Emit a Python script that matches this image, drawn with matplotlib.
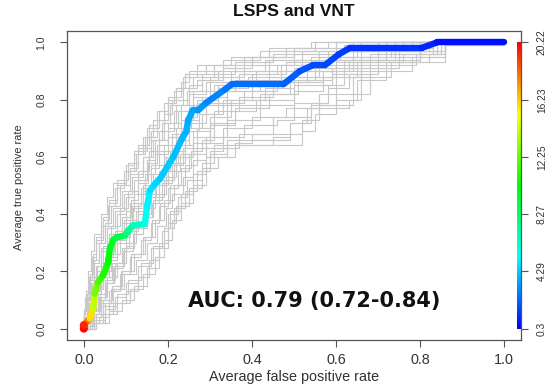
import numpy as np
import matplotlib
matplotlib.use("Agg")
import matplotlib.pyplot as plt
from matplotlib.collections import LineCollection
from matplotlib.colors import hsv_to_rgb

# Averaged ROC curve (false positive rate, true positive rate) with the cutoff at each vertex
roc_fpr = [0.0, 0.0, 0.014, 0.022, 0.026, 0.034, 0.046, 0.058, 0.062, 0.070, 0.078,
           0.098, 0.106, 0.117, 0.145, 0.151, 0.157, 0.169, 0.181, 0.213, 0.233,
           0.244, 0.248, 0.259, 0.272, 0.292, 0.336, 0.352, 0.475, 0.514, 0.546,
           0.574, 0.606, 0.633, 0.804, 0.840, 1.0]
roc_tpr = [0.0, 0.012, 0.035, 0.070, 0.122, 0.163, 0.186, 0.232, 0.279, 0.310, 0.319,
           0.325, 0.343, 0.360, 0.366, 0.430, 0.482, 0.505, 0.523, 0.600, 0.662,
           0.690, 0.726, 0.763, 0.763, 0.790, 0.836, 0.854, 0.854, 0.900, 0.921,
           0.921, 0.958, 0.981, 0.981, 1.0, 1.0]
roc_cutoff = [20.22, 19.5, 16.5, 15.2, 13.0, 12.0, 11.0, 10.3, 10.0, 9.5, 9.2,
              8.3, 7.8, 7.0, 6.0, 5.2, 4.8, 4.6, 4.4, 4.1, 3.9,
              3.8, 3.7, 3.5, 3.4, 3.1, 2.7, 2.6, 2.3, 2.0, 1.85,
              1.75, 1.6, 1.4, 1.1, 0.9, 0.3]

# Bootstrap ROC curves: at each fpr the tpr steps up to the listed value
boot_fpr = [
    [0, 0.005, 0.01, 0.018, 0.025, 0.04, 0.055, 0.07, 0.1, 0.12, 0.15, 0.18, 0.2, 0.23, 0.25, 0.33, 0.42, 0.55],
    [0, 0.008, 0.015, 0.025, 0.035, 0.05, 0.065, 0.085, 0.11, 0.13, 0.16, 0.19, 0.21, 0.25, 0.28, 0.36, 0.45, 0.6],
    [0, 0.01, 0.02, 0.03, 0.04, 0.06, 0.08, 0.1, 0.12, 0.15, 0.17, 0.2, 0.23, 0.26, 0.3, 0.38, 0.5, 0.62, 0.7],
    [0, 0.012, 0.022, 0.035, 0.05, 0.07, 0.09, 0.115, 0.135, 0.16, 0.18, 0.21, 0.24, 0.27, 0.32, 0.4, 0.48, 0.58, 0.78],
    [0, 0.015, 0.028, 0.04, 0.06, 0.08, 0.1, 0.125, 0.15, 0.17, 0.195, 0.22, 0.25, 0.29, 0.34, 0.42, 0.5, 0.6, 0.7, 0.82],
    [0, 0.02, 0.035, 0.05, 0.07, 0.095, 0.12, 0.14, 0.165, 0.185, 0.21, 0.235, 0.27, 0.31, 0.37, 0.45, 0.53, 0.63, 0.74, 0.85],
    [0, 0.022, 0.04, 0.06, 0.085, 0.11, 0.135, 0.16, 0.18, 0.2, 0.225, 0.25, 0.29, 0.34, 0.42, 0.5, 0.57, 0.65, 0.76, 0.86],
    [0, 0.025, 0.05, 0.075, 0.1, 0.13, 0.16, 0.185, 0.2, 0.225, 0.245, 0.28, 0.31, 0.52, 0.55, 0.6, 0.65, 0.72, 0.86],
    [0.03, 0.06, 0.09, 0.12, 0.15, 0.18, 0.2, 0.215, 0.24, 0.27, 0.3, 0.34, 0.49, 0.53, 0.63, 0.66, 0.75, 0.86],
    [0, 0.01, 0.025, 0.04, 0.055, 0.075, 0.1, 0.12, 0.145, 0.17, 0.2, 0.23, 0.26, 0.3, 0.36, 0.44, 0.55, 0.66, 0.8],
    [0, 0.018, 0.03, 0.045, 0.065, 0.085, 0.11, 0.13, 0.155, 0.18, 0.205, 0.24, 0.275, 0.33, 0.4, 0.47, 0.56, 0.68, 0.84],
    [0, 0.01, 0.02, 0.032, 0.045, 0.065, 0.085, 0.105, 0.13, 0.155, 0.18, 0.215, 0.25, 0.29, 0.35, 0.44, 0.56, 0.72],
    [0, 0.02, 0.038, 0.055, 0.08, 0.1, 0.125, 0.15, 0.17, 0.195, 0.22, 0.26, 0.3, 0.36, 0.44, 0.51, 0.59, 0.68, 0.8],
    [0, 0.024, 0.045, 0.068, 0.09, 0.12, 0.145, 0.17, 0.19, 0.215, 0.24, 0.27, 0.37, 0.45, 0.54, 0.58, 0.62, 0.7, 0.8],
    [0, 0.006, 0.014, 0.022, 0.03, 0.045, 0.06, 0.08, 0.1, 0.125, 0.145, 0.175, 0.2, 0.22, 0.26, 0.31, 0.4, 0.5, 0.64],
    [0, 0.004, 0.012, 0.02, 0.03, 0.045, 0.06, 0.08, 0.105, 0.13, 0.155, 0.175, 0.2, 0.22, 0.24, 0.29, 0.38, 0.48, 0.58],
    [0, 0.015, 0.03, 0.045, 0.06, 0.075, 0.095, 0.11, 0.14, 0.16, 0.19, 0.22, 0.255, 0.28, 0.34, 0.41, 0.52, 0.61, 0.74],
    [0.005, 0.02, 0.04, 0.055, 0.075, 0.1, 0.12, 0.15, 0.16, 0.19, 0.215, 0.24, 0.26, 0.3, 0.35, 0.43, 0.5, 0.6, 0.7, 0.83],
    [0.01, 0.03, 0.05, 0.07, 0.095, 0.125, 0.15, 0.175, 0.195, 0.21, 0.235, 0.26, 0.29, 0.33, 0.4, 0.48, 0.56, 0.6, 0.68, 0.79, 0.85],
    [0.02, 0.045, 0.07, 0.1, 0.13, 0.155, 0.18, 0.2, 0.22, 0.25, 0.28, 0.3, 0.33, 0.38, 0.46, 0.5, 0.58, 0.63, 0.7, 0.8, 0.86],
    [0, 0.007, 0.015, 0.025, 0.035, 0.05, 0.07, 0.09, 0.11, 0.14, 0.16, 0.185, 0.205, 0.235, 0.27, 0.33, 0.4, 0.5, 0.6],
    [0, 0.016, 0.03, 0.042, 0.058, 0.078, 0.1, 0.118, 0.14, 0.165, 0.19, 0.21, 0.24, 0.275, 0.32, 0.39, 0.47, 0.56, 0.65, 0.76],
    [0.005, 0.025, 0.042, 0.065, 0.088, 0.112, 0.14, 0.162, 0.182, 0.205, 0.23, 0.255, 0.28, 0.31, 0.36, 0.41, 0.5, 0.59, 0.66, 0.75, 0.84],
    [0, 0.009, 0.018, 0.028, 0.04, 0.055, 0.075, 0.095, 0.115, 0.14, 0.165, 0.19, 0.22, 0.245, 0.28, 0.32, 0.43, 0.52, 0.66],
    [0.03, 0.05, 0.08, 0.11, 0.14, 0.17, 0.19, 0.21, 0.23, 0.26, 0.29, 0.32, 0.36, 0.4, 0.52, 0.56, 0.64, 0.68, 0.78, 0.86],
    [0, 0.012, 0.024, 0.038, 0.052, 0.072, 0.092, 0.112, 0.13, 0.152, 0.175, 0.2, 0.225, 0.26, 0.31, 0.37, 0.46, 0.54, 0.64, 0.78],
    [0, 0.02, 0.033, 0.05, 0.068, 0.09, 0.108, 0.128, 0.15, 0.172, 0.2, 0.225, 0.25, 0.28, 0.32, 0.38, 0.46, 0.55, 0.62, 0.72, 0.82],
    [0, 0.006, 0.013, 0.02, 0.03, 0.042, 0.058, 0.075, 0.095, 0.12, 0.14, 0.165, 0.19, 0.215, 0.235, 0.27, 0.35, 0.44, 0.54],
    [0.004, 0.018, 0.036, 0.052, 0.072, 0.094, 0.118, 0.14, 0.163, 0.18, 0.2, 0.228, 0.26, 0.3, 0.34, 0.42, 0.49, 0.57, 0.64, 0.73, 0.83],
    [0.015, 0.035, 0.06, 0.08, 0.105, 0.135, 0.165, 0.19, 0.205, 0.23, 0.26, 0.29, 0.34, 0.45, 0.49, 0.54, 0.6, 0.64, 0.73, 0.82, 0.86],
]
boot_tpr = [
    [0.06, 0.12, 0.2, 0.27, 0.33, 0.4, 0.46, 0.51, 0.57, 0.62, 0.7, 0.76, 0.81, 0.86, 0.9, 0.94, 0.97, 1.0],
    [0.04, 0.1, 0.17, 0.24, 0.3, 0.37, 0.43, 0.5, 0.56, 0.63, 0.69, 0.75, 0.8, 0.85, 0.89, 0.93, 0.96, 1.0],
    [0.03, 0.09, 0.15, 0.2, 0.27, 0.33, 0.4, 0.46, 0.52, 0.59, 0.66, 0.72, 0.78, 0.83, 0.88, 0.92, 0.96, 0.99, 1.0],
    [0.02, 0.07, 0.13, 0.19, 0.25, 0.31, 0.37, 0.43, 0.49, 0.56, 0.62, 0.68, 0.74, 0.8, 0.85, 0.89, 0.93, 0.97, 1.0],
    [0.02, 0.06, 0.12, 0.18, 0.24, 0.3, 0.35, 0.41, 0.47, 0.53, 0.6, 0.66, 0.72, 0.78, 0.83, 0.87, 0.91, 0.95, 0.98, 1.0],
    [0.01, 0.05, 0.1, 0.16, 0.22, 0.28, 0.33, 0.39, 0.45, 0.51, 0.57, 0.63, 0.7, 0.76, 0.81, 0.86, 0.9, 0.94, 0.97, 1.0],
    [0.01, 0.04, 0.08, 0.13, 0.19, 0.25, 0.31, 0.37, 0.43, 0.49, 0.55, 0.61, 0.67, 0.73, 0.78, 0.83, 0.88, 0.93, 0.96, 1.0],
    [0.0, 0.03, 0.07, 0.11, 0.16, 0.22, 0.28, 0.34, 0.4, 0.46, 0.52, 0.58, 0.64, 0.69, 0.75, 0.8, 0.87, 0.93, 1.0],
    [0.02, 0.06, 0.1, 0.15, 0.21, 0.28, 0.35, 0.42, 0.48, 0.55, 0.61, 0.66, 0.72, 0.77, 0.8, 0.91, 0.95, 1.0],
    [0.05, 0.11, 0.18, 0.23, 0.29, 0.34, 0.41, 0.47, 0.54, 0.61, 0.67, 0.73, 0.78, 0.83, 0.87, 0.9, 0.94, 0.98, 1.0],
    [0.03, 0.08, 0.14, 0.2, 0.26, 0.32, 0.38, 0.44, 0.5, 0.55, 0.62, 0.69, 0.75, 0.8, 0.85, 0.88, 0.92, 0.96, 1.0],
    [0.04, 0.1, 0.16, 0.22, 0.29, 0.36, 0.42, 0.48, 0.55, 0.62, 0.69, 0.76, 0.82, 0.86, 0.9, 0.94, 0.97, 1.0],
    [0.02, 0.06, 0.12, 0.18, 0.23, 0.3, 0.36, 0.42, 0.47, 0.53, 0.6, 0.65, 0.71, 0.77, 0.82, 0.87, 0.91, 0.95, 1.0],
    [0.01, 0.05, 0.1, 0.15, 0.2, 0.26, 0.32, 0.38, 0.45, 0.5, 0.57, 0.63, 0.68, 0.74, 0.79, 0.85, 0.9, 0.94, 1.0],
    [0.07, 0.13, 0.19, 0.26, 0.31, 0.38, 0.44, 0.5, 0.55, 0.61, 0.67, 0.73, 0.79, 0.84, 0.88, 0.92, 0.95, 0.98, 1.0],
    [0.05, 0.11, 0.18, 0.25, 0.32, 0.39, 0.45, 0.52, 0.58, 0.64, 0.71, 0.76, 0.8, 0.84, 0.89, 0.92, 0.95, 0.98, 1.0],
    [0.03, 0.08, 0.15, 0.21, 0.26, 0.33, 0.38, 0.44, 0.5, 0.57, 0.64, 0.7, 0.77, 0.81, 0.86, 0.9, 0.94, 0.97, 1.0],
    [0.02, 0.07, 0.11, 0.17, 0.23, 0.29, 0.35, 0.4, 0.46, 0.52, 0.58, 0.64, 0.69, 0.74, 0.8, 0.84, 0.88, 0.93, 0.96, 1.0],
    [0.01, 0.05, 0.09, 0.14, 0.19, 0.24, 0.3, 0.36, 0.42, 0.47, 0.53, 0.59, 0.65, 0.7, 0.74, 0.77, 0.82, 0.88, 0.92, 0.96, 1.0],
    [0.02, 0.05, 0.09, 0.13, 0.18, 0.24, 0.3, 0.37, 0.43, 0.49, 0.56, 0.62, 0.67, 0.71, 0.73, 0.79, 0.84, 0.89, 0.93, 0.97, 1.0],
    [0.05, 0.12, 0.18, 0.23, 0.3, 0.36, 0.42, 0.48, 0.54, 0.6, 0.66, 0.72, 0.78, 0.84, 0.87, 0.91, 0.95, 0.98, 1.0],
    [0.03, 0.07, 0.13, 0.19, 0.25, 0.31, 0.37, 0.42, 0.48, 0.54, 0.6, 0.67, 0.73, 0.79, 0.84, 0.88, 0.92, 0.95, 0.98, 1.0],
    [0.01, 0.05, 0.09, 0.14, 0.2, 0.26, 0.32, 0.38, 0.44, 0.5, 0.56, 0.62, 0.66, 0.72, 0.76, 0.8, 0.85, 0.89, 0.94, 0.97, 1.0],
    [0.04, 0.09, 0.16, 0.22, 0.28, 0.35, 0.41, 0.47, 0.53, 0.6, 0.66, 0.72, 0.78, 0.83, 0.87, 0.9, 0.94, 0.97, 1.0],
    [0.02, 0.05, 0.09, 0.14, 0.19, 0.25, 0.31, 0.38, 0.44, 0.5, 0.56, 0.6, 0.65, 0.68, 0.73, 0.78, 0.82, 0.9, 0.95, 0.99],
    [0.03, 0.09, 0.14, 0.2, 0.27, 0.33, 0.39, 0.45, 0.51, 0.58, 0.64, 0.7, 0.76, 0.81, 0.85, 0.89, 0.92, 0.95, 0.98, 1.0],
    [0.02, 0.06, 0.12, 0.17, 0.23, 0.28, 0.34, 0.4, 0.46, 0.52, 0.58, 0.64, 0.7, 0.75, 0.79, 0.83, 0.87, 0.9, 0.94, 0.97, 1.0],
    [0.06, 0.1, 0.17, 0.24, 0.3, 0.36, 0.43, 0.49, 0.55, 0.61, 0.67, 0.73, 0.79, 0.83, 0.88, 0.92, 0.95, 0.98, 1.0],
    [0.02, 0.06, 0.11, 0.16, 0.21, 0.27, 0.33, 0.39, 0.44, 0.5, 0.55, 0.61, 0.67, 0.72, 0.78, 0.82, 0.86, 0.9, 0.95, 0.98, 1.0],
    [0.02, 0.04, 0.08, 0.12, 0.17, 0.23, 0.29, 0.35, 0.41, 0.47, 0.54, 0.6, 0.64, 0.67, 0.72, 0.78, 0.82, 0.88, 0.93, 0.96, 0.99],
]

cutoff_ticks = [0.3, 4.29, 8.27, 12.25, 16.23, 20.22]
axis_ticks = [0.0, 0.2, 0.4, 0.6, 0.8, 1.0]
auc_label = "AUC: 0.79 (0.72-0.84)"

cut_min, cut_max = min(cutoff_ticks), max(cutoff_ticks)


def rainbow(values):
    # hue runs from blue (lowest cutoff) to red (highest cutoff)
    t = (np.asarray(values, dtype=float) - cut_min) / (cut_max - cut_min)
    t = np.clip(t, 0, 1)
    hsv = np.stack([(1 - t) * 4 / 6, np.ones_like(t), np.ones_like(t)], axis=-1)
    return hsv_to_rgb(hsv)


plt.rcParams["font.family"] = ["Liberation Sans", "DejaVu Sans"]

W, H = 548, 385
fig = plt.figure(figsize=(W / 100, H / 100), dpi=100)
ax = fig.add_axes([67 / W, 1 - 340 / H, (521 - 67) / W, (340 - 31) / H])

# bootstrap curves as staircases
for fx, fy in zip(boot_fpr, boot_tpr):
    xs = [0.0] + list(fx) + [1.0]
    ys = [0.0] + list(fy) + [fy[-1]]
    ax.step(xs, ys, where="post", color="#c8c8c8", lw=0.8, zorder=1)

# averaged curve coloured by cutoff
pts = np.column_stack([roc_fpr, roc_tpr])
segs = np.stack([pts[:-1], pts[1:]], axis=1)
seg_cut = (np.asarray(roc_cutoff[:-1]) + np.asarray(roc_cutoff[1:])) / 2
lc = LineCollection(segs, colors=rainbow(seg_cut), linewidths=4.6,
                    capstyle="round", joinstyle="round", zorder=3)
ax.add_collection(lc)
ax.scatter(roc_fpr[:2], roc_tpr[:2], s=34, c=rainbow(roc_cutoff[:2]),
           edgecolors="none", zorder=4)

# colour key along the right edge
grad = np.linspace(cut_min, cut_max, 256)[:, None]
ax.imshow(rainbow(grad), extent=[1.0305, 1.04, 0.0, 1.0], origin="lower",
          aspect="auto", zorder=2, interpolation="bilinear")
ax.set_xlim(-0.04, 1.04)
ax.set_ylim(-0.04, 1.04)

for s in ax.spines.values():
    s.set_color("#555555")
    s.set_linewidth(0.9)

ax.set_xticks(axis_ticks)
ax.set_xticklabels([f"{v:.1f}" for v in axis_ticks], fontsize=10.4, color="#333333")
ax.set_yticks(axis_ticks)
ax.set_yticklabels([f"{v:.1f}" for v in axis_ticks], fontsize=7.6, color="#333333",
                   rotation=90, va="center")
ax.tick_params(axis="both", direction="out", length=5, width=0.8, color="#555555")
ax.tick_params(axis="x", pad=4.5)
ax.tick_params(axis="y", pad=10)

# cutoff axis on the right, in cutoff units
ax2 = ax.twinx()
span = cut_max - cut_min
ax2.set_ylim(cut_min - 0.04 * span, cut_min + 1.04 * span)
ax2.set_yticks(cutoff_ticks)
ax2.set_yticklabels([f"{v:g}" for v in cutoff_ticks], fontsize=7.4, color="#333333",
                    rotation=90, va="center")
ax2.tick_params(axis="y", direction="out", length=5, width=0.8, color="#555555", pad=6.5)
for s in ax2.spines.values():
    s.set_visible(False)

fig.text(294 / W, 1 - 12 / H, "LSPS and VNT", ha="center", va="center",
         fontsize=12.6, fontweight="bold", color="#111111")
fig.text(294 / W, 1 - 377 / H, "Average false positive rate", ha="center", va="center",
         fontsize=10.4, color="#333333")
fig.text(19 / W, 1 - 187 / H, "Average true positive rate", ha="center", va="center",
         rotation=90, fontsize=7.9, color="#333333")

ax.text(0.249, 0.077, auc_label, ha="left", va="baseline", fontsize=15,
        fontweight="bold", family=["DejaVu Sans"], color="#111111", zorder=5)

fig.savefig("out.png", dpi=100)
